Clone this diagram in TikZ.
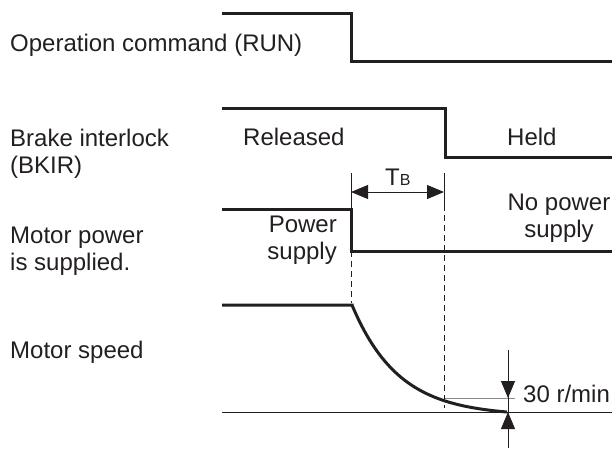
\documentclass[tikz,border=0pt]{standalone}
\usepackage{fontspec}
\setmainfont{Liberation Sans}
\usetikzlibrary{arrows.meta}
\definecolor{ink}{HTML}{231F20}
\definecolor{refgray}{HTML}{8A8A8A}
\tikzset{
  lbl/.style={font=\fontsize{24}{27}\selectfont, inner sep=0pt, text=ink},
  sig/.style={draw=ink, line width=3pt, line join=miter},
  thinln/.style={draw=ink, line width=0.9pt},
  dashln/.style={draw=ink, line width=0.9pt, dash pattern=on 6pt off 4pt},
  tipa/.style={-{Triangle[length=17pt,width=14pt]}}
}
\begin{document}
\begin{tikzpicture}[x=1pt,y=-1pt]
\useasboundingbox (0,0) rectangle (612,448);

% left labels
\node[lbl, anchor=base west] (run) at (10,51) {Operation command (RUN)};
\node[lbl, anchor=base west] (bk1) at (10,146) {Brake interlock};
\node[lbl, anchor=base west] (bk2) at (10,173) {(BKIR)};
\node[lbl, anchor=base west] (mp1) at (10,243) {Motor power};
\node[lbl, anchor=base west] (mp2) at (10,270) {is supplied.};
\node[lbl, anchor=base west] (ms) at (10,358) {Motor speed};

% state labels
\node[lbl, anchor=base west] (rel) at (243,145) {Released};
\node[lbl, anchor=base west] (held) at (507,145) {Held};
\node[lbl, anchor=base east] (ps1) at (337,232) {Power};
\node[lbl, anchor=base east] (ps2) at (337,259) {supply};
\node[lbl, anchor=base] (np1) at (559,210) {No power};
\node[lbl, anchor=base] (np2) at (559,237) {supply};
\node[lbl, anchor=base west] (tb) at (385,185) {T\fontsize{16}{16}\selectfont B};
\node[lbl, anchor=base west] (rpm) at (523,402) {30 r/min};

% coordinates
\coordinate (r0) at (222,13);  \coordinate (r1) at (351,13);
\coordinate (r2) at (351,61);  \coordinate (r3) at (612,61);
\coordinate (b0) at (222,108); \coordinate (b1) at (445,108);
\coordinate (b2) at (445,157); \coordinate (b3) at (612,157);
\coordinate (p0) at (222,209); \coordinate (p1) at (351,209);
\coordinate (p2) at (351,251); \coordinate (p3) at (612,251);
\coordinate (s0) at (222,305); \coordinate (s1) at (352,305);
\coordinate (g0) at (222,412); \coordinate (g1) at (612,412);

% signals
\draw[sig] (r0) -- (r1) -- (r2) -- (r3);
\draw[sig] (b0) -- (b1) -- (b2) -- (b3);
\draw[sig] (p0) -- (p1) -- (p2) -- (p3);
\draw[sig] (s0) -- (s1) -- plot[domain=0:155,samples=90]
  ({352+\x},{412-107*(exp(-0.0215*\x)-0.0357)/0.9643});

% baseline
\draw[thinln] (g0) -- (g1);

% T_B dimension
\coordinate (e1) at (351,173); \coordinate (e2) at (444,173);
\coordinate (e2b) at (444,205);
\coordinate (a1) at (351,192); \coordinate (a2) at (444,192);
\draw[thinln] (e1) -- (p1);
\draw[thinln] (e2) -- (e2b);
\draw[thinln, {Triangle[length=17pt,width=14pt]}-{Triangle[length=17pt,width=14pt]}] (a1) -- (a2);

% dashed guides
\coordinate (d1a) at (351,251); \coordinate (d1b) at (351,303);
\coordinate (d2b) at (444,408);
\draw[dashln] (d1a) -- (d1b);
\draw[dashln] (e2b) -- (d2b);

% 30 r/min reference
\coordinate (q0) at (445,398); \coordinate (q1) at (515,398);
\draw[draw=refgray, line width=0.9pt] (q0) -- (q1);
\coordinate (v0) at (508,350); \coordinate (vt) at (508,398);
\coordinate (v1) at (508,448); \coordinate (vb) at (508,412);
\draw[thinln] (v0) -- (v1);
\draw[thinln, tipa] (v0) -- (vt);
\draw[thinln, tipa] (v1) -- (vb);
\end{tikzpicture}
\end{document}
